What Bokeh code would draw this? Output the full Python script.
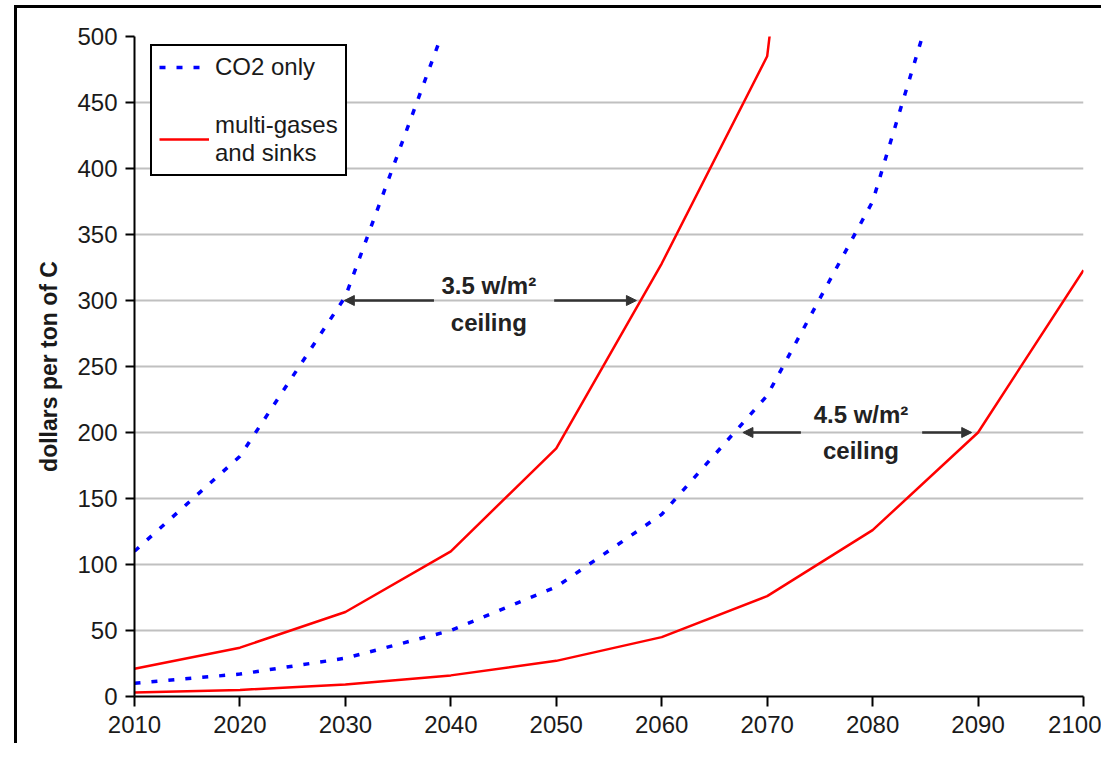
from bokeh.plotting import figure
from bokeh.models import (Range1d, FixedTicker, Legend, LegendItem, Label, Arrow,
                          NormalHead)
from bokeh.embed import file_html
from bokeh.resources import INLINE

# ---- data ----
year_ticks = [2010, 2020, 2030, 2040, 2050, 2060, 2070, 2080, 2090, 2100]
value_ticks = [0, 50, 100, 150, 200, 250, 300, 350, 400, 450, 500]

co2_35_years = [2010, 2020, 2030, 2040]
co2_35_vals = [110, 182, 303, 520]

multi_35_years = [2010, 2020, 2030, 2040, 2050, 2060, 2070, 2080]
multi_35_vals = [21, 37, 64, 110, 188, 328, 485, 1150]

co2_45_years = [2010, 2020, 2030, 2040, 2050, 2060, 2070, 2080, 2090]
co2_45_vals = [10, 17, 29, 50, 83, 138, 228, 375, 640]

multi_45_years = [2010, 2020, 2030, 2040, 2050, 2060, 2070, 2080, 2090, 2100]
multi_45_vals = [3, 5, 9, 16, 27, 45, 76, 126, 200, 323]

series_labels = ["CO2 only", "multi-gases\nand sinks"]
y_label = "dollars per ton of C"

FONT = "Liberation Sans"

p = figure(width=1101, height=743, output_backend="svg", toolbar_location=None,
           x_range=Range1d(2010, 2100), y_range=Range1d(0, 500),
           min_border_left=134, min_border_right=18, min_border_top=36,
           min_border_bottom=47)
p.outline_line_color = None
p.background_fill_color = "white"
p.border_fill_alpha = 0
p.styles = {
    "background": ("linear-gradient(#000,#000) 14px 5px / 3px calc(100% - 5px) no-repeat, "
                   "linear-gradient(#000,#000) 14px 5px / calc(100% - 14px) 3px no-repeat, "
                   "white")
}

# grid
p.xgrid.grid_line_color = None
p.ygrid.grid_line_color = "#c0c0c0"
p.ygrid.grid_line_width = 2

# axes
p.xaxis.ticker = FixedTicker(ticks=year_ticks)
p.yaxis.ticker = FixedTicker(ticks=value_ticks)
for ax in (p.xaxis[0], p.yaxis[0]):
    ax.axis_line_color = "black"
    ax.axis_line_width = 2
    ax.major_tick_line_color = "black"
    ax.major_tick_line_width = 2
    ax.minor_tick_line_color = None
    ax.major_tick_in = 0
    ax.major_label_text_font = FONT
    ax.major_label_text_font_size = "24px"
    ax.major_label_text_color = "#1a1a1a"
p.xaxis.major_tick_out = 10
p.xaxis.major_label_standoff = 9
p.yaxis.major_tick_out = 9
p.yaxis.major_label_standoff = 8
p.yaxis.axis_label = y_label
p.yaxis.axis_label_text_font = FONT
p.yaxis.axis_label_text_font_style = "bold"
p.yaxis.axis_label_text_font_size = "23px"
p.yaxis.axis_label_text_color = "#1a1a1a"
p.yaxis.axis_label_standoff = 12

# lines
blue = "#0000ff"
red = "#ff0000"
r_c35 = p.line(co2_35_years, co2_35_vals, line_color=blue, line_width=3.5,
               line_dash="6 11")
r_m35 = p.line(multi_35_years, multi_35_vals, line_color=red, line_width=2.5)
p.line(co2_45_years, co2_45_vals, line_color=blue, line_width=3.5, line_dash="6 11")
p.line(multi_45_years, multi_45_vals, line_color=red, line_width=2.5)

legend = Legend(items=[LegendItem(label=series_labels[0], renderers=[r_c35]),
                       LegendItem(label=series_labels[1], renderers=[r_m35])],
                location=(16, 520))
legend.label_text_font = FONT
legend.label_text_font_size = "24px"
legend.label_text_color = "#1a1a1a"
legend.glyph_width = 50
legend.label_standoff = 6
legend.spacing = 30
legend.padding = 7
legend.margin = 0
legend.border_line_color = "black"
legend.border_line_alpha = 1
legend.border_line_width = 2
legend.background_fill_alpha = 1
p.add_layout(legend)

# annotations
txt_kw = dict(text_font=FONT, text_font_style="bold", text_font_size="24px",
              text_color="#222222", text_align="center", text_baseline="middle")
p.add_layout(Label(x=2043.6, y=311, text="3.5 w/m\u00b2", **txt_kw))
p.add_layout(Label(x=2043.6, y=283, text="ceiling", **txt_kw))
p.add_layout(Label(x=2078.9, y=214, text="4.5 w/m\u00b2", **txt_kw))
p.add_layout(Label(x=2078.9, y=186, text="ceiling", **txt_kw))

arrow_color = "#333333"
def arr(x0, x1, y):
    p.add_layout(Arrow(x_start=x0, y_start=y, x_end=x1, y_end=y,
                       line_color=arrow_color, line_width=2.5,
                       end=NormalHead(size=10, fill_color=arrow_color,
                                      line_color=arrow_color)))
arr(2038.4, 2029.9, 300)
arr(2049.8, 2057.6, 300)
arr(2073.2, 2067.7, 200)
arr(2084.7, 2089.4, 200)

open("out.html", "w").write(file_html(p, INLINE))
